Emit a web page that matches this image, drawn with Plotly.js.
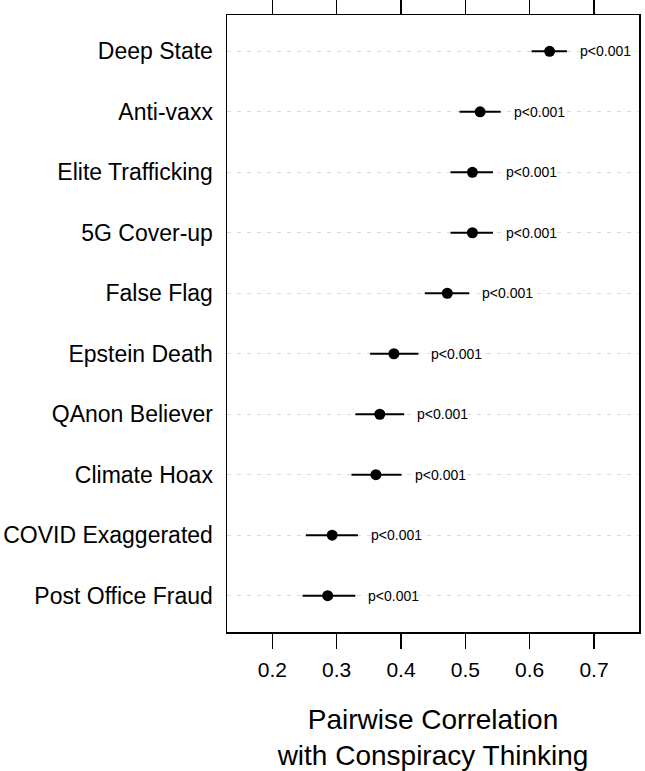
<!DOCTYPE html>
<html>
<head>
<meta charset="utf-8">
<script src="https://cdn.plot.ly/plotly-3.0.1.min.js"></script>
<style>html,body{margin:0;padding:0;background:#fff;}#chart{width:645px;height:771px;}</style>
</head>
<body>
<div id="chart"></div>
<script>
const categories = ["Deep State","Anti-vaxx","Elite Trafficking","5G Cover-up","False Flag","Epstein Death","QAnon Believer","Climate Hoax","COVID Exaggerated","Post Office Fraud"];
const estimates = [0.631, 0.523, 0.511, 0.511, 0.472, 0.389, 0.367, 0.361, 0.293, 0.286];
const lowerCI   = [0.603, 0.491, 0.477, 0.477, 0.437, 0.352, 0.329, 0.323, 0.252, 0.247];
const upperCI   = [0.658, 0.555, 0.543, 0.543, 0.506, 0.427, 0.405, 0.401, 0.333, 0.329];
const pLabels   = ["p<0.001","p<0.001","p<0.001","p<0.001","p<0.001","p<0.001","p<0.001","p<0.001","p<0.001","p<0.001"];
const xTicks = [0.2, 0.3, 0.4, 0.5, 0.6, 0.7];

const FONT = "Liberation Sans, Arial, Helvetica, sans-serif";

const trace = {
  type: "scatter",
  mode: "markers",
  x: estimates,
  y: categories,
  marker: {color: "#000", size: 11},
  error_x: {
    type: "data",
    symmetric: false,
    array: estimates.map((e, i) => upperCI[i] - e),
    arrayminus: estimates.map((e, i) => e - lowerCI[i]),
    color: "#000",
    thickness: 2,
    width: 0
  },
  hoverinfo: "skip",
  showlegend: false
};

const annotations = categories.map((c, i) => ({
  x: upperCI[i], y: c, xref: "x", yref: "y",
  text: pLabels[i], showarrow: false,
  xanchor: "left", yanchor: "middle", xshift: 11,
  font: {family: FONT, size: 14, color: "#000"}
}));

const layout = {
  width: 645, height: 771,
  margin: {l: 227, r: 6, t: 15, b: 139},
  paper_bgcolor: "#fff", plot_bgcolor: "#fff",
  font: {family: FONT, color: "#000"},
  xaxis: {
    range: [0.1295, 0.77],
    tickvals: xTicks,
    ticktext: xTicks.map(v => v.toFixed(1)),
    ticks: "outside", ticklen: 15, tickwidth: 1.5, tickcolor: "#000",
    showline: true, linecolor: "#000", linewidth: 1.5, mirror: "allticks",
    showgrid: false, zeroline: false,
    tickfont: {family: FONT, size: 21, color: "#000"},
    ticklabelstandoff: 3,
    title: {text: "Pairwise Correlation<br>with Conspiracy Thinking", font: {family: FONT, size: 28, color: "#000"}, standoff: 30},
    automargin: false
  },
  yaxis: {
    type: "category",
    range: [9.6, -0.6],
    ticks: "",
    showline: true, linecolor: "#000", linewidth: 1.5, mirror: true,
    showgrid: true, gridcolor: "#d9d9d9", griddash: "4px,6px", gridwidth: 1,
    zeroline: false,
    tickfont: {family: FONT, size: 23, color: "#000"},
    ticklabelstandoff: 8,
    automargin: false
  },
  annotations: annotations
};

Plotly.newPlot("chart", [trace], layout, {displayModeBar: false, staticPlot: true});
</script>
</body>
</html>
